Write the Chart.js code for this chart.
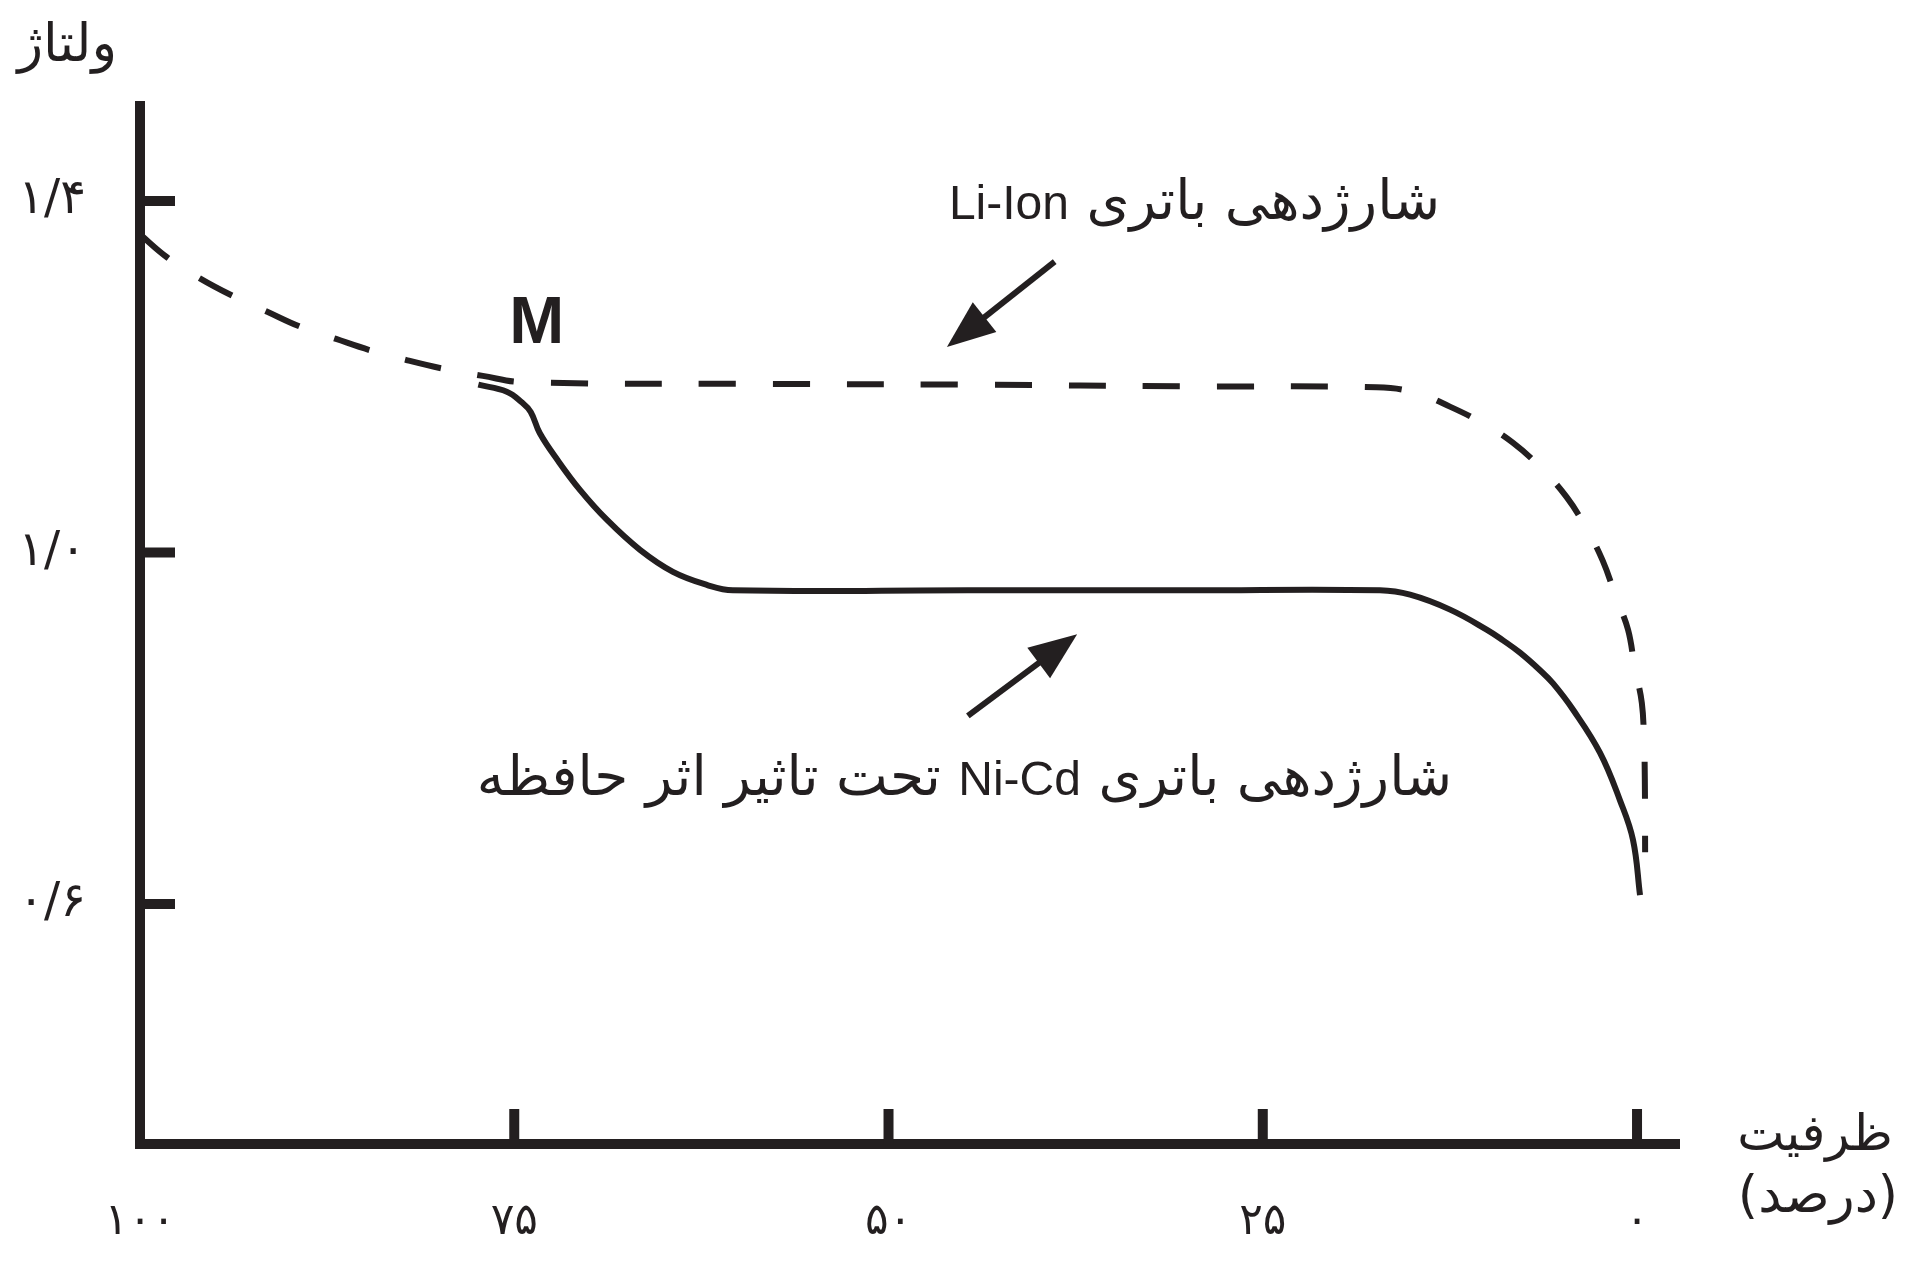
<!DOCTYPE html>
<html lang="fa">
<head>
<meta charset="utf-8">
<title>ولتاژ و ظرفیت باتری</title>
<script src="https://cdn.jsdelivr.net/npm/chart.js@4.4.1/dist/chart.umd.min.js"></script>
<style>
    html, body { margin: 0; padding: 0; background: #fff; }
    #wrap { width: 1920px; height: 1274px; position: relative; }
</style>
</head>
<body>
<div id="wrap"><canvas id="voltageChart"></canvas></div>
<script>
// capacity (%) on x, voltage on y
const liIonCapacity = [100, 98.2, 96.0, 93.8, 91.5, 89.3, 86.9, 84.6, 82.2, 79.7, 77.1, 74.5, 59.8, 44.7, 29.7, 17.4, 14.8, 12.5, 10.3, 8.3, 6.4, 4.7, 3.4, 2.3, 1.4, 0.6, 0.15, -0.32, -0.47, -0.52, -0.54];
const liIonVoltage = [1.362, 1.336, 1.312, 1.292, 1.274, 1.257, 1.243, 1.230, 1.219, 1.209, 1.201, 1.194, 1.192, 1.191, 1.189, 1.188, 1.182, 1.166, 1.147, 1.125, 1.096, 1.063, 1.028, 0.991, 0.949, 0.912, 0.869, 0.829, 0.783, 0.743, 0.659];

const niCdCapacity = [77.4, 75.5, 74.5, 73.9, 73.3, 72.1, 70.6, 68.8, 66.6, 64.4, 62.1, 60.4, 44.7, 29.7, 17.17, 15.16, 12.49, 10.02, 8.95, 7.82, 6.48, 5.61, 4.27, 2.47, 1.14, 0.27, -0.2];
const niCdVoltage = [1.191, 1.183, 1.171, 1.160, 1.136, 1.105, 1.071, 1.037, 1.003, 0.978, 0.963, 0.957, 0.957, 0.957, 0.957, 0.952, 0.935, 0.912, 0.900, 0.886, 0.866, 0.851, 0.821, 0.772, 0.718, 0.673, 0.610];

const xTickValues = [100, 75, 50, 25, 0];
const xTickLabels = ['۱۰۰', '۷۵', '۵۰', '۲۵', '۰'];
const yTickValues = [0.6, 1.0, 1.4];
const yTickLabels = ['۰/۶', '۱/۰', '۱/۴'];

const yAxisTitle = 'ولتاژ';
const xAxisTitle = ['ظرفیت', '(درصد)'];
// right-to-left pieces: persian, latin, persian
const liIonLabel = ['شارژدهی باتری ', 'Li-Ion'];
const niCdLabel = ['شارژدهی باتری ', 'Ni-Cd', ' تحت تاثیر اثر حافظه'];
const pointLabel = 'M';

const ink = '#231f20';
const persianFont = "'DejaVu Sans'";
const latinFont = "'Liberation Sans'";

function toPoints(xs, ys) {
    return xs.map((x, i) => ({ x: x, y: ys[i] }));
}

function drawArrow(ctx, x1, y1, x2, y2) {
    const ang = Math.atan2(y2 - y1, x2 - x1);
    const headLen = 48, headHalf = 19;
    const bx = x2 - headLen * Math.cos(ang);
    const by = y2 - headLen * Math.sin(ang);
    ctx.beginPath();
    ctx.moveTo(x1, y1);
    ctx.lineTo(bx + 2 * Math.cos(ang), by + 2 * Math.sin(ang));
    ctx.lineWidth = 6;
    ctx.stroke();
    ctx.beginPath();
    ctx.moveTo(x2, y2);
    ctx.lineTo(bx + headHalf * Math.sin(ang), by - headHalf * Math.cos(ang));
    ctx.lineTo(bx - headHalf * Math.sin(ang), by + headHalf * Math.cos(ang));
    ctx.closePath();
    ctx.fill();
}

// mixed persian / latin label, laid out from the right edge
function drawRtlLabel(ctx, parts, right, baseline) {
    let xPos = right;
    ctx.direction = 'rtl';
    ctx.textAlign = 'right';
    ctx.textBaseline = 'alphabetic';
    parts.forEach(part => {
        const isLatin = /^[A-Za-z-]+$/.test(part);
        ctx.font = isLatin ? '48px ' + latinFont : '55px ' + persianFont;
        ctx.fillText(part, xPos, baseline);
        xPos -= ctx.measureText(part).width;
    });
}

// axes with inward ticks, titles, arrows and labels
const figureDecor = {
    id: 'figureDecor',
    afterDraw(chart) {
        const { ctx, chartArea, scales: { x, y } } = chart;
        ctx.save();
        ctx.strokeStyle = ink;
        ctx.fillStyle = ink;
        ctx.lineCap = 'butt';

        ctx.lineWidth = 10;
        ctx.beginPath();
        ctx.moveTo(chartArea.left, chartArea.top);
        ctx.lineTo(chartArea.left, chartArea.bottom + 5);
        ctx.moveTo(chartArea.left - 5, chartArea.bottom);
        ctx.lineTo(chartArea.right, chartArea.bottom);
        ctx.stroke();

        ctx.beginPath();
        yTickValues.forEach(v => {
            const py = y.getPixelForValue(v);
            ctx.moveTo(chartArea.left, py);
            ctx.lineTo(chartArea.left + 35, py);
        });
        xTickValues.forEach(v => {
            if (v === 100) return;
            const px = x.getPixelForValue(v);
            ctx.moveTo(px, chartArea.bottom);
            ctx.lineTo(px, chartArea.bottom - 35);
        });
        ctx.stroke();

        // arrows pointing at the two curves
        drawArrow(ctx, x.getPixelForValue(38.9), y.getPixelForValue(1.331),
                       x.getPixelForValue(46.1), y.getPixelForValue(1.234));
        drawArrow(ctx, x.getPixelForValue(44.7), y.getPixelForValue(0.814),
                       x.getPixelForValue(37.4), y.getPixelForValue(0.907));

        ctx.font = "bold 66px " + latinFont;
        ctx.textAlign = 'center';
        ctx.textBaseline = 'middle';
        ctx.fillText(pointLabel, x.getPixelForValue(73.5), y.getPixelForValue(1.259));

        drawRtlLabel(ctx, liIonLabel, x.getPixelForValue(13.16), y.getPixelForValue(1.3795));
        drawRtlLabel(ctx, niCdLabel, x.getPixelForValue(12.36), y.getPixelForValue(0.724));

        ctx.direction = 'rtl';
        ctx.textAlign = 'right';
        ctx.textBaseline = 'alphabetic';
        ctx.font = '53px ' + persianFont;
        ctx.fillText(yAxisTitle, 117, 61);
        ctx.textAlign = 'center';
        ctx.font = '50px ' + persianFont;
        ctx.fillText(xAxisTitle[0], 1815, 1150);
        ctx.font = '52px ' + persianFont;
        ctx.fillText(xAxisTitle[1], 1818, 1212);
        ctx.restore();
    }
};

new Chart(document.getElementById('voltageChart'), {
    type: 'line',
    data: {
        datasets: [{
            label: 'Li-Ion',
            data: toPoints(liIonCapacity, liIonVoltage),
            borderColor: ink,
            borderWidth: 6,
            borderDash: [37, 37],
            tension: 0.4,
            pointRadius: 0,
            clip: false
        }, {
            label: 'Ni-Cd',
            data: toPoints(niCdCapacity, niCdVoltage),
            borderColor: ink,
            borderWidth: 6,
            tension: 0.4,
            pointRadius: 0,
            clip: false
        }]
    },
    options: {
        responsive: true,
        maintainAspectRatio: false,
        animation: false,
        devicePixelRatio: 1,
        layout: { padding: { top: 101, right: 240, left: 0, bottom: 0 } },
        plugins: {
            legend: { display: false },
            tooltip: { enabled: false }
        },
        scales: {
            x: {
                type: 'linear',
                reverse: true,
                min: -2.87,
                max: 100,
                grid: { display: false, drawTicks: false },
                border: { display: false },
                afterBuildTicks: s => { s.ticks = xTickValues.map(v => ({ value: v })); },
                afterFit: s => { s.height = 130; },
                ticks: {
                    autoSkip: false,
                    maxRotation: 0,
                    padding: 52,
                    color: ink,
                    font: { family: persianFont, size: 44 },
                    callback: (v, i) => xTickLabels[i]
                }
            },
            y: {
                min: 0.3269,
                max: 1.5138,
                grid: { display: false, drawTicks: false },
                border: { display: false },
                afterBuildTicks: s => { s.ticks = yTickValues.map(v => ({ value: v })); },
                afterFit: s => { s.width = 140; },
                ticks: {
                    padding: 54,
                    color: ink,
                    font: { family: persianFont, size: 48 },
                    callback: (v, i) => yTickLabels[i]
                }
            }
        }
    },
    plugins: [figureDecor]
});
</script>
</body>
</html>
